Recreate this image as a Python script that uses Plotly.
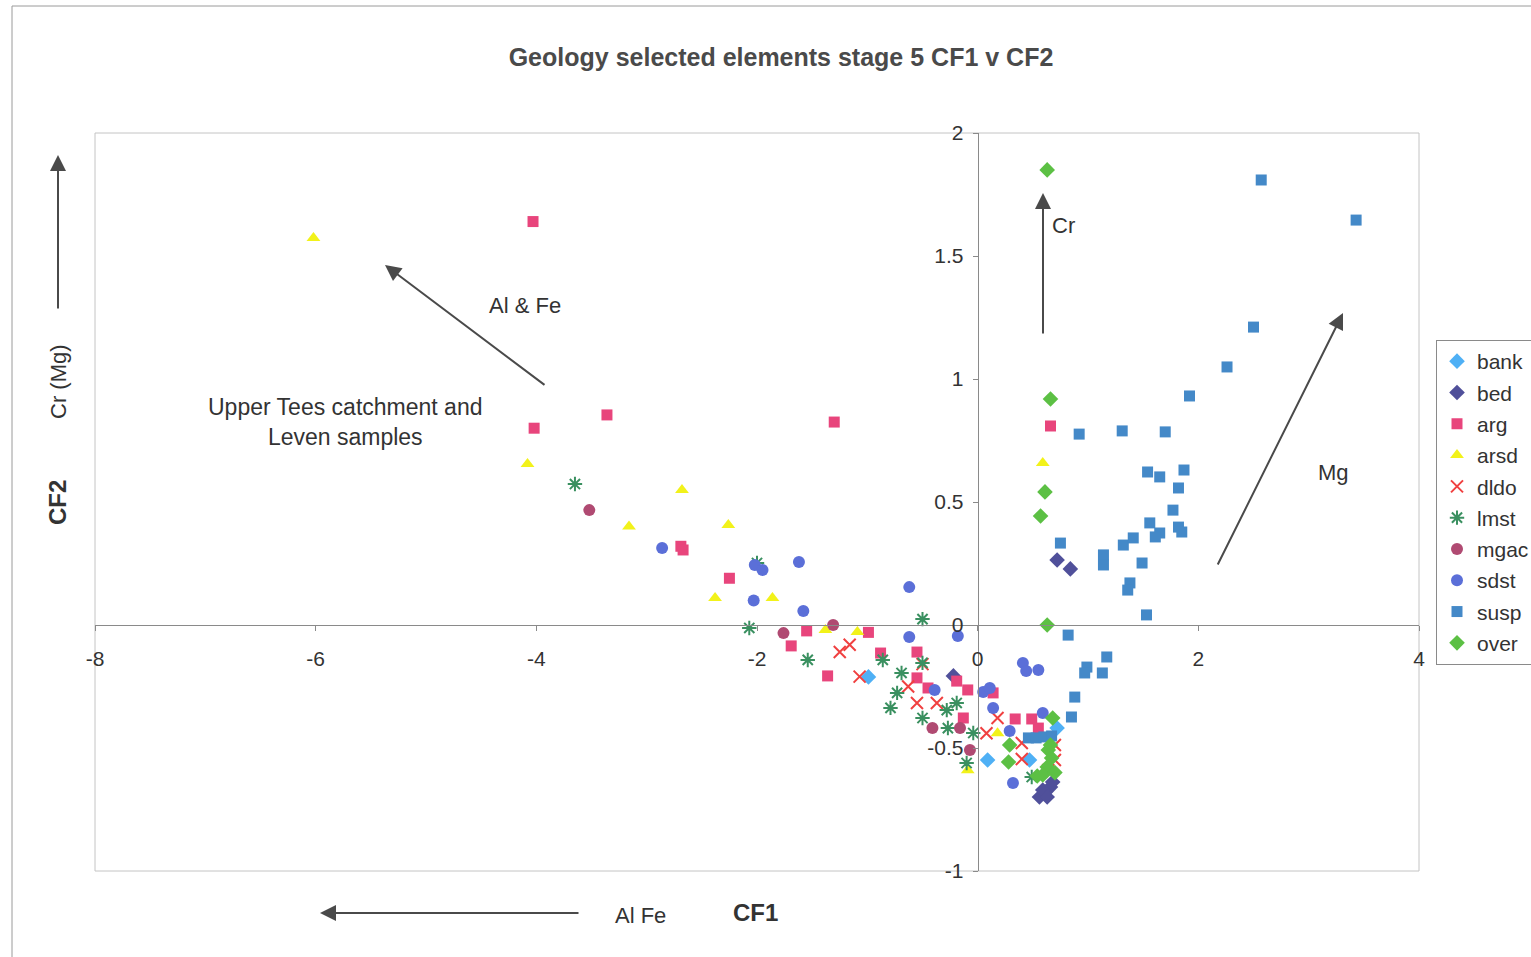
import plotly.graph_objects as go

# CF1 / CF2 discriminant scores for each sample group
bank_x = [-0.99, 0.09, 0.47, 0.72]
bank_y = [-0.211, -0.549, -0.549, -0.419]

bed_x = [0.72, 0.84, -0.22, 0.56, 0.61, 0.66, 0.68, 0.59, 0.63]
bed_y = [0.264, 0.228, -0.207, -0.699, -0.679, -0.659, -0.638, -0.671, -0.699]

arg_x = [-4.03, -4.02, -3.36, -1.30, -2.69, -2.67, -2.25, -1.55, -1.69, -1.36, -0.99, -0.88,
         -0.55, -0.55, -0.45, -0.19, -0.09, -0.13, 0.14, 0.34, 0.49, 0.55, 0.66]
arg_y = [1.64, 0.80, 0.854, 0.825, 0.32, 0.305, 0.19, -0.024, -0.085, -0.207, -0.03, -0.114,
         -0.11, -0.215, -0.256, -0.228, -0.264, -0.378, -0.276, -0.382, -0.382, -0.419, 0.809]

arsd_x = [-6.02, -4.08, -3.16, -2.68, -2.26, -2.38, -1.86, -1.38, -1.09, -0.09, 0.18, 0.59]
arsd_y = [1.573, 0.654, 0.40, 0.549, 0.407, 0.11, 0.11, -0.02, -0.028, -0.59, -0.44, 0.659]

dldo_x = [-1.25, -1.16, -1.07, -0.63, -0.55, -0.37, -0.50, 0.08, 0.18, 0.40, 0.40, 0.70, 0.70, 0.64]
dldo_y = [-0.11, -0.08, -0.21, -0.25, -0.317, -0.317, -0.159, -0.44, -0.378, -0.48, -0.545,
          -0.488, -0.549, -0.59]

lmst_x = [-3.65, -2.07, -2.00, -1.54, -0.86, -0.50, -0.50, -0.69, -0.73, -0.79, -0.50, -0.28,
          -0.27, -0.19, -0.04, -0.10, 0.49]
lmst_y = [0.573, -0.012, 0.252, -0.142, -0.142, 0.024, -0.154, -0.195, -0.276, -0.337, -0.378,
          -0.346, -0.419, -0.317, -0.439, -0.561, -0.618]

mgac_x = [-3.52, -1.76, -1.31, -0.41, -0.16, -0.07]
mgac_y = [0.467, -0.033, 0.0, -0.419, -0.419, -0.508]

sdst_x = [-2.86, -2.02, -1.95, -1.62, -2.03, -1.58, -0.62, -0.62, -0.18, -0.39, 0.05, 0.11,
          0.14, 0.29, 0.32, 0.41, 0.44, 0.55, 0.59]
sdst_y = [0.313, 0.244, 0.224, 0.256, 0.10, 0.057, 0.154, -0.049, -0.045, -0.264, -0.272,
          -0.256, -0.337, -0.431, -0.642, -0.154, -0.187, -0.183, -0.358]

susp_x = [2.57, 3.43, 2.50, 2.26, 1.92, 0.92, 1.31, 1.70, 1.54, 1.65, 1.87, 1.82, 1.77, 1.56,
          1.65, 1.61, 1.82, 1.85, 0.75, 1.14, 1.14, 1.32, 1.41, 1.49, 1.38, 1.36, 1.53, 0.82,
          1.17, 0.99, 0.97, 1.13, 0.88, 0.85, 0.46, 0.53, 0.60, 0.67]
susp_y = [1.809, 1.646, 1.211, 1.049, 0.931, 0.776, 0.789, 0.785, 0.622, 0.602, 0.630, 0.557,
          0.467, 0.415, 0.374, 0.358, 0.398, 0.378, 0.333, 0.285, 0.244, 0.325, 0.354, 0.252,
          0.171, 0.142, 0.041, -0.041, -0.130, -0.171, -0.195, -0.195, -0.293, -0.374,
          -0.459, -0.459, -0.455, -0.451]

over_x = [0.63, 0.66, 0.61, 0.57, 0.63, 0.68, 0.29, 0.28, 0.64, 0.67, 0.63, 0.59, 0.70, 0.54, 0.66]
over_y = [1.85, 0.919, 0.541, 0.443, 0.0, -0.378, -0.488, -0.557, -0.508, -0.541, -0.577,
          -0.61, -0.60, -0.614, -0.488]

x_ticks = [-8, -6, -4, -2, 0, 2, 4]
y_ticks = [-1, -0.5, 0, 0.5, 1, 1.5, 2]

FONT = "Arial, Liberation Sans, sans-serif"
TXT = "#333333"

series = [
    ("bank", bank_x, bank_y, "diamond", "#4fb0f5", 12, 0),
    ("bed", bed_x, bed_y, "diamond", "#50509a", 12, 0),
    ("arg", arg_x, arg_y, "square", "#e8457c", 11, 0),
    ("arsd", arsd_x, arsd_y, "triangle-up", "#f2f21a", 12, 0),
    ("dldo", dldo_x, dldo_y, "x-thin-open", "#f04040", 12, 2),
    ("lmst", lmst_x, lmst_y, "asterisk-open", "#3a9060", 12, 2),
    ("mgac", mgac_x, mgac_y, "circle", "#b04a72", 12, 0),
    ("sdst", sdst_x, sdst_y, "circle", "#5b6fd8", 12, 0),
    ("susp", susp_x, susp_y, "square", "#4489c8", 11, 0),
    ("over", over_x, over_y, "diamond", "#5cc044", 12, 0),
]

fig = go.Figure()
for name, xs, ys, sym, col, size, lw in series:
    marker = dict(symbol=sym, color=col, size=size)
    if lw:
        marker["line"] = dict(color=col, width=lw)
    else:
        marker["line"] = dict(width=0)
    fig.add_trace(go.Scatter(x=xs, y=ys, mode="markers", name=name, marker=marker,
                             legendgroup=name))

# plot area occupies pixels 95..1419 horizontally and 133..871 vertically
L, R, T, B = 95, 1419, 133, 871
W, H = 1531, 957


def px(xp):
    return (xp - L) / (R - L)


def py(yp):
    return (B - yp) / (B - T)


fig.update_layout(
    width=W, height=H,
    margin=dict(l=L, r=W - R, t=T, b=H - B, autoexpand=False),
    paper_bgcolor="white", plot_bgcolor="white",
    font=dict(family=FONT, color=TXT, size=21),
    title=dict(text="<b>Geology selected elements stage 5 CF1 v CF2</b>",
               x=781 / W, xanchor="center", y=1 - 57 / H, yanchor="middle",
               font=dict(size=25, color="#4a4a4a", family=FONT)),
    xaxis=dict(range=[-8, 4], tickvals=x_ticks, ticktext=[str(v) for v in x_ticks],
               showgrid=False, zeroline=False, showline=True, linecolor="#8a8a8a",
               linewidth=1, ticks="outside", ticklen=5, tickcolor="#8a8a8a",
               anchor="free", position=1 / 3, ticklabelstandoff=10,
               tickfont=dict(size=21, color=TXT)),
    yaxis=dict(range=[-1, 2], tickvals=y_ticks, ticktext=["-1", "-0.5", "0", "0.5", "1", "1.5", "2"],
               showgrid=False, zeroline=False, showline=True, linecolor="#8a8a8a",
               linewidth=1, ticks="outside", ticklen=5, tickcolor="#8a8a8a",
               anchor="free", position=2 / 3, ticklabelstandoff=5,
               tickfont=dict(size=21, color=TXT)),
    legend=dict(x=px(1436), y=py(340), xanchor="left", yanchor="top",
                bordercolor="#8a8a8a", borderwidth=1, bgcolor="white",
                font=dict(size=21, color=TXT, family=FONT),
                tracegroupgap=1, itemwidth=30),
    showlegend=True,
)

# plot-area border and outer chart frame
fig.add_shape(type="rect", xref="paper", yref="paper", x0=0, x1=1, y0=0, y1=1,
              line=dict(color="#c4c4c4", width=1), layer="below")
fig.add_shape(type="rect", xref="paper", yref="paper", x0=px(12), x1=px(1545),
              y0=py(962), y1=py(6), line=dict(color="#9a9a9a", width=1), layer="below")


def label(text, xp, yp, size=22, bold=False, angle=0):
    t = f"<b>{text}</b>" if bold else text
    fig.add_annotation(text=t, x=px(xp), y=py(yp), xref="paper", yref="paper",
                       showarrow=False, textangle=angle, xanchor="center", yanchor="middle",
                       font=dict(size=size, color=TXT, family=FONT))


def arrow(x0, y0, x1, y1):
    fig.add_annotation(text="", x=px(x1), y=py(y1), xref="paper", yref="paper",
                       ax=x0 - x1, ay=y0 - y1, axref="pixel", ayref="pixel",
                       showarrow=True, arrowhead=2, arrowsize=1.6, arrowwidth=2,
                       arrowcolor="#4a4a4a")


label("CF1", 755, 912, size=24, bold=True)
label("CF2", 58, 503, size=24, bold=True, angle=-90)
label("Cr (Mg)", 58, 382, size=22, angle=-90)
label("Al Fe", 640, 915, size=22)
label("Al &amp; Fe", 525, 305, size=22)
label("Upper Tees catchment and<br>Leven samples", 345, 422, size=23)
label("Cr", 1063, 225, size=22)
label("Mg", 1333, 473, size=22)

arrow(546, 386, 385, 265)
arrow(1043, 335, 1043, 193)
arrow(1217, 566, 1343, 313)
arrow(58, 310, 58, 155)
arrow(580, 913, 320, 913)

fig.write_html("out.html")
